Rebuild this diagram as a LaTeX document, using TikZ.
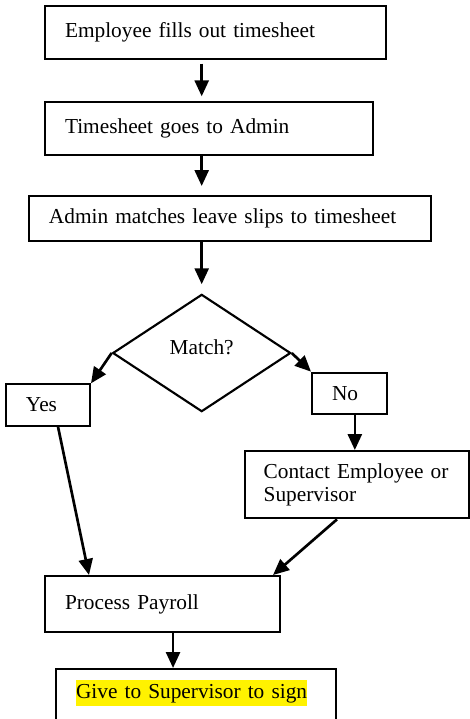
\documentclass[tikz,border=0pt]{standalone}
\usepackage{fontspec}
\setmainfont{Liberation Serif}
\usetikzlibrary{arrows.meta, shapes.geometric}

\begin{document}
\begin{tikzpicture}[x=0.75pt, y=-0.75pt,
                    stepbox/.style= {rectangle,
                      draw,
                      line width=1.5pt,
                      font=\fontsize{16}{17.25}\selectfont,
                      align=left,
                      inner xsep=15pt,
                      inner ysep=0pt},
                    decision/.style= {diamond,
                      draw,
                      line width=1.6pt,
                      font=\fontsize{16}{17.25}\selectfont,
                      inner sep=0pt,
                      text depth=9pt,
                      minimum width=133.5pt,
                      minimum height=88pt},
                    flow/.style= {line width=2pt,
                      -{Triangle[length=12pt, width=10.5pt]}}]

  \useasboundingbox (0,0) rectangle (470,719);
  \coordinate (spine) at (201.7,0);

  \node[stepbox, text width=225.75pt, minimum height=39.75pt] (fill) at (215.5,32.7) {Employee fills out timesheet};
  \node[stepbox, text width=216pt, minimum height=39.75pt] (admin) at (209,128.5) {Timesheet goes to Admin};
  \node[stepbox, text width=271.5pt, minimum height=33.75pt] (slips) at (230,218.5) {Admin matches leave slips to timesheet};
  \node[decision] (match) at (201.7,353) {Match?};
  \node[stepbox, text width=33pt, minimum height=31pt] (yes) at (48,405) {Yes};
  \node[stepbox, text width=26.25pt, minimum height=31pt] (no) at (349.5,393.3) {No};
  \node[stepbox, text width=140pt, inner xsep=14pt, minimum height=50.5pt] (contact) at (357,484.7) {Contact Employee or\\Supervisor};
  \node[stepbox, text width=146.25pt, minimum height=42pt] (payroll) at (162.5,604) {Process Payroll};
  \node[stepbox, anchor=north, text width=180pt, inner ysep=8.25pt, text depth=40pt] (sign) at (196,668)
    {{\setlength{\fboxsep}{0pt}\colorbox{yellow}{\rule[-5.5pt]{0pt}{19.5pt}Give to Supervisor to sign}}};

  \path[flow]
    (fill.south -| spine) edge[shorten <=2.5pt, shorten >=3.5pt] (admin.north -| spine)
    (admin.south -| spine) edge[shorten >=6.75pt] (slips.north -| spine)
    (slips.south -| spine) edge[shorten >=6.75pt] (match.north)
    (match.west) edge (yes.north east)
    (match.east) edge (no.north west)
    ([xshift=4pt]no.south) edge ([xshift=4pt]no.south |- contact.north)
    ([xshift=7.5pt]yes.south) edge ([xshift=33.75pt]payroll.north west)
    ([xshift=-15pt]contact.south) edge ([xshift=-6pt]payroll.north east)
    ([xshift=7.9pt]payroll.south) edge ([xshift=7.9pt]payroll.south |- sign.north);
\end{tikzpicture}
\end{document}
